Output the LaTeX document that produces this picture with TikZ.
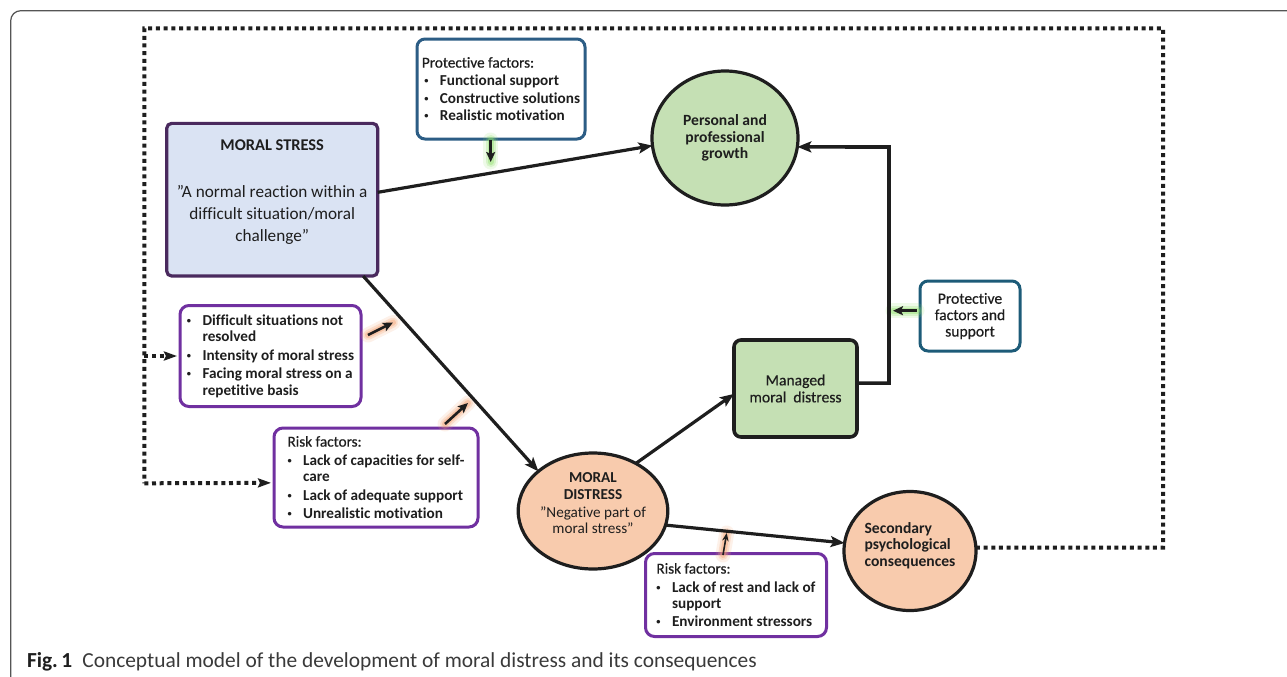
\documentclass[tikz,border=0pt]{standalone}
\usepackage{fontspec}
\setmainfont{Carlito}[Ligatures={TeX,NoCommon}]
\newfontfamily\medfont{Carlito}[Ligatures={TeX,NoCommon},FakeBold=0.5]
\usetikzlibrary{arrows.meta,shapes.geometric}
\definecolor{msfill}{HTML}{DAE3F3}
\definecolor{msdraw}{HTML}{4A2A5E}
\definecolor{pfdraw}{HTML}{2C5D85}
\definecolor{pfsdraw}{HTML}{1D5B78}
\definecolor{rkdraw}{HTML}{7030A0}
\definecolor{gfill}{HTML}{C5E0B4}
\definecolor{ofill}{HTML}{F8CBAD}
\definecolor{gglow}{HTML}{8FE06A}
\definecolor{oglow}{HTML}{F5A372}
\definecolor{capgray}{HTML}{3A3A3A}
\definecolor{framegray}{HTML}{555555}
\definecolor{ink}{HTML}{1E1E1E}
\newcommand{\bul}{\makebox[7.8pt][l]{\raisebox{1pt}{\scalebox{0.55}{\textbullet}}}}
\newcommand{\ind}{\hspace*{7.8pt}}
\newcommand{\glow}[3]{%
  \draw[#1, opacity=0.15, line width=7.5pt, line cap=round] (#2) -- (#3);
  \draw[#1, opacity=0.25, line width=5pt, line cap=round] (#2) -- (#3);
  \draw[#1, opacity=0.4, line width=3pt, line cap=round] (#2) -- (#3);}
\begin{document}
\begin{tikzpicture}[x=0.5pt,y=-0.5pt,
  every node/.style={inner sep=0pt, outer sep=0pt, text=ink},
  boxbase/.style={rectangle, line width=1.5pt, fill=white},
  listfont/.style={font=\fontsize{7.6}{8.2}\selectfont\bfseries, align=left},
  flow/.style={draw=ink, line width=1.6pt, -{Stealth[length=7pt,width=5.5pt,inset=1.5pt]}},
  elbow/.style={draw=ink, line width=1.8pt, -{Stealth[length=7pt,width=5.5pt,inset=1.5pt]}},
  minor/.style={draw=ink, line width=1.3pt, -{Stealth[length=5pt,width=4.5pt,inset=1pt]}},
  dotline/.style={draw=ink, line width=2pt, dash pattern=on 2pt off 1.85pt},
  dotarrow/.style={dotline, -{Stealth[length=6.5pt,width=4.5pt,inset=1pt]}}
]
\useasboundingbox (0,0) rectangle (1287,676);
\clip (0,0) rectangle (1287,676);
\fill[white] (0,0) rectangle (1287,676);
% outer frame
\draw[framegray, line width=0.6pt, rounded corners=5pt] (10.7,720) -- (10.7,10.7) -- (1320,10.7);

% ---------- nodes ----------
\node[boxbase, fill=msfill, draw=msdraw, line width=1.6pt, rounded corners=2.5pt,
      minimum width=105.5pt, minimum height=76.35pt, align=center,
      font=\fontsize{8.6}{11.2}\selectfont] (ms) at (272.2,199.7)
  {{\bfseries\fontsize{8.2}{11.2}\selectfont MORAL STRESS}\\[12.3pt]
   ”A normal reaction within a\\ difficult situation/moral\\ challenge”\rule[-9.1pt]{0pt}{9.1pt}};

\node[boxbase, draw=pfdraw, rounded corners=4pt, minimum width=84pt, minimum height=50pt,
      font=\fontsize{7.6}{8.85}\selectfont, align=left] (pf) at (501,89)
  {{\medfont Protective factors:}\\ \bfseries\hspace*{1.2pt}\bul Functional support\\
   \bfseries\hspace*{1.2pt}\bul Constructive solutions\\ \bfseries\hspace*{1.2pt}\bul Realistic motivation};

\node[ellipse, draw=ink, line width=1.6pt, fill=gfill, minimum width=73pt, minimum height=67pt,
      align=center, font=\fontsize{7.8}{8.3}\selectfont\bfseries] (ppg) at (725,138)
  {Personal and\\ professional\\ growth};

\node[boxbase, draw=pfsdraw, rounded corners=4pt, minimum width=50pt, minimum height=35pt,
      align=center, font=\fontsize{7.8}{8.2}\selectfont\medfont] (pfs) at (970,316)
  {Protective\\ factors and\\ support};

\node[boxbase, draw=ink, fill=gfill, line width=1.8pt, rounded corners=3.5pt,
      minimum width=61.5pt, minimum height=48.5pt, align=center,
      font=\fontsize{7.8}{8.5}\selectfont\medfont] (mmd) at (795.5,388.5)
  {Managed\\ moral~ distress};

\node[ellipse, draw=ink, line width=1.6pt, fill=ofill, minimum width=60pt, minimum height=58pt,
      align=center, font=\fontsize{7.6}{8.2}\selectfont] (md) at (593,511)
  {{\bfseries MORAL}\\ {\bfseries DISTRESS}\\[1pt]
   "Negative part of\\ moral stress”\rule[-7.6pt]{0pt}{7.6pt}};

\node[ellipse, draw=ink, line width=1.6pt, fill=ofill, minimum width=66pt, minimum height=59.5pt,
      align=left, font=\fontsize{7.8}{8.35}\selectfont\bfseries] (spc) at (910,551)
  {Secondary\\ psychological\\ consequences\rule[-6.75pt]{0pt}{6.75pt}};

\node[boxbase, draw=rkdraw, rounded corners=4.5pt, minimum width=90.5pt, minimum height=50.5pt,
      listfont] (b1) at (270.5,356)
  {\bul Difficult situations not\\ \ind resolved\\[1.1pt]
   \bul Intensity of moral stress\\[1.1pt]
   \bul Facing moral stress on a\\ \ind repetitive basis};

\node[boxbase, draw=rkdraw, rounded corners=4.5pt, minimum width=102pt, minimum height=49.5pt,
      listfont] (rf1) at (376,477.5)
  {{\mdseries\medfont Risk factors:}\\[1.1pt]
   \bul Lack of capacities for self-\\ \ind care\\[1.1pt]
   \bul Lack of adequate support\\[1.1pt]
   \bul Unrealistic motivation};

\node[boxbase, draw=rkdraw, rounded corners=4.5pt, minimum width=90.5pt, minimum height=41.5pt,
      listfont] (rf2) at (736,595)
  {{\mdseries\medfont Risk factors:}\\[1pt]
   \bul Lack of rest and lack of\\ \ind support\\[1pt]
   \bul Environment stressors};

\node[anchor=west, font=\fontsize{10.7}{12}\selectfont] (cap) at (27,662)
  {\textbf{Fig.\,1}\hspace{5pt}{\color{capgray}Conceptual model of the development of moral distress and its consequences}};

% ---------- coordinates ----------
\coordinate (c2) at (889,147);
\coordinate (d1) at (1163,547.5);
\coordinate (d2) at (1163,28.3);
\coordinate (d3) at (144.3,28.3);
\coordinate (d4) at (144.3,483.3);
\coordinate (d5) at (144.3,356);
\coordinate (g1s) at (490.7,140);
\coordinate (g1e) at (490.7,162);
\coordinate (g2s) at (917,310.7);
\coordinate (g2e) at (893,310.7);
\coordinate (o1s) at (368,335);
\coordinate (o1e) at (393,322.5);
\coordinate (o2s) at (445,424);
\coordinate (o2e) at (468,403);
\coordinate (o3s) at (723,555);
\coordinate (o3e) at (726.7,533);

% ---------- glows ----------
\glow{gglow}{g1s}{g1e}
\glow{gglow}{g2s}{g2e}
\glow{oglow}{o1s}{o1e}
\glow{oglow}{o2s}{o2e}
\glow{oglow}{o3s}{o3e}

% ---------- connectors ----------
\draw[flow] (ms.4) -- (ppg.186);
\draw[flow] (ms.-40) -- (md.144);
\draw[flow] (md.48) -- (mmd.185);
\draw[flow] (md.-11) -- (spc.173);
\draw[elbow] (mmd.5) -| (c2) -- (ppg.-7);
\draw[dotline] (spc.3) -- (d1) -- (d2) -- (d3) -- (d4);
\draw[dotarrow, shorten >=1.5pt] (d4) -- (rf1.183);
\draw[dotarrow, shorten >=1.5pt] (d5) -- (b1.180);

\draw[minor] (g1s) -- (g1e);
\draw[minor] (g2s) -- (g2e);
\draw[minor] (o1s) -- (o1e);
\draw[minor] (o2s) -- (o2e);
\draw[minor, line width=0.8pt, -{Stealth[length=4pt,width=3.2pt]}] (o3s) -- (o3e);
\end{tikzpicture}
\end{document}
